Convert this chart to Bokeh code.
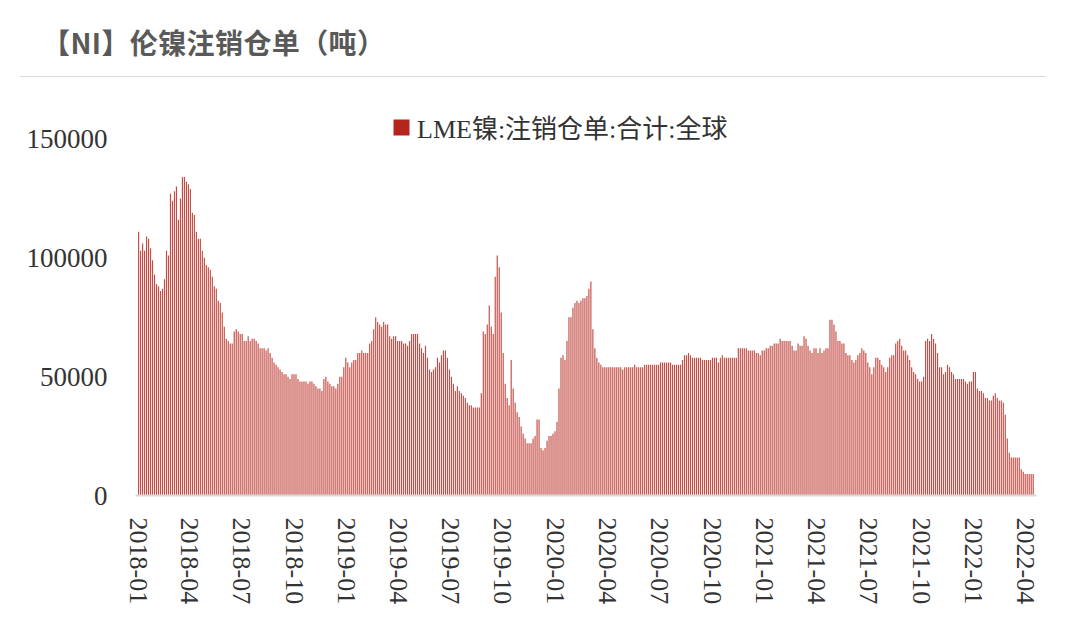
import numpy as np
import pandas as pd
from bokeh.plotting import figure
from bokeh.models import (ColumnDataSource, FixedTicker, DatetimeTickFormatter, Legend,
                          LegendItem, Range1d, Div, BasicTickFormatter)
from bokeh.layouts import column
from bokeh.core.properties import value
from bokeh.embed import file_html
from bokeh.resources import INLINE

title_text = "【NI】伦镍注销仓单（吨）"
series_name = "LME镍:注销仓单:合计:全球"
first_date = "2018-01-02"
last_date = "2022-04-15"

# cancelled warrants (tonnes), sampled roughly twice a week
values_2018a = [111000, 103000, 106000, 103000, 109000, 108000, 104000, 99000, 93000, 89000,
                88000, 86000, 87000, 91000, 103000, 101000, 127000, 124000, 128000, 130000,
                116000, 125000, 134000, 134000, 132000, 131000, 129000, 119000, 118000, 111000,
                108000, 108000, 103000, 100000, 97000, 96000, 95000, 92000, 88000, 87000,
                82000, 81000, 77000, 71000, 66000, 65000, 64000, 64000]
values_2018b = [69000, 70000, 69000, 68000, 68000, 65000, 65000, 67000, 65000, 66000,
                66000, 65000, 64000, 62000, 62000, 62000, 61000, 62000, 60000, 58000,
                56000, 55000, 54000, 53000, 52000, 51000, 51000, 50000, 49000, 51000,
                51000, 51000, 49000, 48000, 48000, 48000, 48000, 47000, 48000, 48000,
                47000, 46000, 45000, 45000, 44000, 49000, 50000, 48000, 47000, 46000,
                46000, 45000, 47000, 50000, 50000, 54000, 58000, 56000, 54000, 56000,
                57000, 57000, 60000, 60000, 61000, 60000, 60000, 60000, 64000, 65000,
                70000, 75000, 73000, 72000, 71000, 73000, 72000, 72000, 67000, 66000,
                67000, 67000, 65000, 65000, 65000, 64000, 64000, 63000, 65000, 68000,
                68000, 68000, 68000, 64000, 62000, 60000, 63000, 58000, 53000, 52000, 53000]
values_2019 = [54000, 58000, 56000, 59000, 61000, 61000, 58000, 53000, 50000, 47000,
               44000, 46000, 44000, 43000, 42000, 41000, 39000, 38000, 38000, 37000,
               37000, 37000, 37000, 43000, 69000, 68000, 72000, 80000, 71000, 68000,
               92000, 101000, 96000, 77000, 60000, 47000, 41000, 38000, 57000, 45000,
               39000, 35000, 33000, 29000, 26000, 24000, 22000, 22000, 22000, 24000,
               25000, 32000, 32000, 20000, 19000, 20000, 23000, 25000, 25000, 26000,
               27000, 31000, 45000, 58000, 59000, 57000, 65000, 75000, 75000, 79000,
               81000, 82000, 81000, 82000, 83000, 83000, 84000, 87000, 90000, 70000,
               62000, 58000, 56000, 55000, 54000, 54000, 54000, 54000, 54000, 54000,
               54000, 54000, 54000, 54000, 53000, 54000, 54000, 54000, 54000, 54000,
               55000, 54000, 54000, 54000, 54000, 55000, 55000, 55000, 55000, 55000,
               55000, 55000, 55000, 56000, 56000, 56000, 56000, 56000, 56000, 55000,
               55000, 55000, 55000, 55000, 57000, 59000, 59000, 60000, 59000, 58000,
               58000, 58000, 58000, 58000, 57000, 57000, 57000, 57000, 57000, 58000,
               58000, 58000, 56000, 58000, 59000, 58000, 58000, 58000, 58000]
values_2021 = [58000, 58000, 58000, 62000, 62000, 62000, 62000, 62000, 61000, 61000,
               61000, 61000, 60000, 60000, 59000, 61000, 61000, 62000, 62000, 63000,
               63000, 64000, 64000, 64000, 66000, 65000, 65000, 65000, 65000, 65000,
               63000, 61000, 61000, 64000, 63000, 63000, 67000, 66000, 63000, 61000,
               60000, 62000, 62000, 60000, 62000, 60000, 61000, 62000, 62000, 74000,
               74000, 72000, 69000, 65000, 65000, 64000, 64000, 60000, 59000, 59000,
               57000, 56000, 57000, 59000, 60000, 62000, 61000, 60000, 56000, 54000,
               51000, 54000, 58000, 58000, 57000, 55000, 54000, 52000, 54000, 58000,
               59000, 59000, 64000, 65000, 66000, 63000, 61000, 61000, 59000, 57000,
               54000, 52000, 51000, 49000, 48000, 48000, 50000, 65000, 66000, 65000,
               68000, 66000, 64000, 60000, 54000, 54000, 51000, 52000, 55000, 54000,
               52000, 51000, 49000, 49000, 49000, 49000, 49000, 48000, 47000, 48000,
               48000, 52000, 52000, 45000, 44000, 44000, 43000, 41000, 41000, 40000,
               40000, 42000, 43000, 41000, 40000, 40000, 39000, 34000, 24000, 18000,
               16000, 16000, 16000, 16000, 16000, 11000, 10000, 9000, 9000, 9000,
               9000, 9000]

y_ticks = [0, 50000, 100000, 150000]
x_tick_labels = ["2018-01", "2018-04", "2018-07", "2018-10", "2019-01", "2019-04", "2019-07",
                 "2019-10", "2020-01", "2020-04", "2020-07", "2020-10", "2021-01", "2021-04",
                 "2021-07", "2021-10", "2022-01", "2022-04"]

vals = values_2018a + values_2018b + values_2019 + values_2021
n = len(vals)
ms = lambda s: pd.Timestamp(s).value / 1e6
t0, t1 = ms(first_date), ms(last_date)
xs = t0 + (t1 - t0) * np.arange(n) / (n - 1)
step = (t1 - t0) / (n - 1)

src = ColumnDataSource(dict(x=xs, top=vals, zero=[0] * n))

p = figure(width=1058, height=542, x_axis_type="datetime",
           x_range=Range1d(ms("2017-12-27 14:00"), ms("2022-04-20 19:00")),
           y_range=Range1d(0, 170000),
           output_backend="svg", toolbar_location=None,
           min_border_left=135, min_border_right=22, min_border_top=8, min_border_bottom=130)
p.outline_line_color = None
p.grid.visible = False
p.background_fill_color = "white"

p.vbar(x="x", top="top", width=step * 0.58, source=src, fill_color="#c44c45", line_color=None)

# zero-height twin of the bars, only used to draw the legend swatch in a deeper red
leg_r = p.vbar(x="x", top="zero", width=step * 0.58, source=src, fill_color="#b3261e", line_color=None)
legend = Legend(items=[LegendItem(label=value(series_name), renderers=[leg_r])],
                location=(256, 350), orientation="horizontal",
                border_line_color=None, background_fill_alpha=0, padding=0, margin=0,
                glyph_width=20, glyph_height=20, label_standoff=6,
                label_text_font="'Liberation Serif', 'Noto Sans CJK SC'",
                label_text_font_size="26px", label_text_color="#333333")
p.add_layout(legend)

font = "'Liberation Serif', 'DejaVu Serif'"
yax = p.yaxis[0]
yax.ticker = FixedTicker(ticks=y_ticks)
yax.formatter = BasicTickFormatter(use_scientific=False)
yax.axis_line_color = None
yax.major_tick_line_color = None
yax.minor_tick_line_color = None
yax.major_tick_out = 0
yax.major_label_standoff = 28
yax.major_label_text_font = font
yax.major_label_text_font_size = "27px"
yax.major_label_text_color = "#333333"

xax = p.xaxis[0]
xax.ticker = FixedTicker(ticks=[ms(s + "-01") for s in x_tick_labels])
fmt = "%Y-%m"
xax.formatter = DatetimeTickFormatter(years=fmt, months=fmt, days=fmt, hours=fmt, minutes=fmt,
                                      seconds=fmt, milliseconds=fmt, microseconds=fmt)
xax.axis_line_color = "#d9d9d9"
xax.axis_line_width = 2
xax.major_tick_line_color = None
xax.minor_tick_line_color = None
xax.major_tick_out = 0
xax.major_label_standoff = 22
xax.major_label_orientation = "vertical"
xax.major_label_text_font = font
xax.major_label_text_font_size = "26px"
xax.major_label_text_color = "#333333"

header = Div(text=(
    '<div style="position:relative;width:1058px;height:73px;">'
    '<div style="position:absolute;left:37px;top:19px;font-family:\'Noto Sans CJK SC\';'
    'font-weight:bold;font-size:28px;letter-spacing:0.4px;line-height:36px;color:#595959;white-space:nowrap;">'
    + title_text + '</div>'
    '<div style="position:absolute;left:15px;top:71px;width:1026px;border-top:1px solid #d9d9d9;"></div>'
    '</div>'), width=1058, height=73)

layout = column(header, p)
open("out.html", "w").write(file_html(layout, INLINE))
